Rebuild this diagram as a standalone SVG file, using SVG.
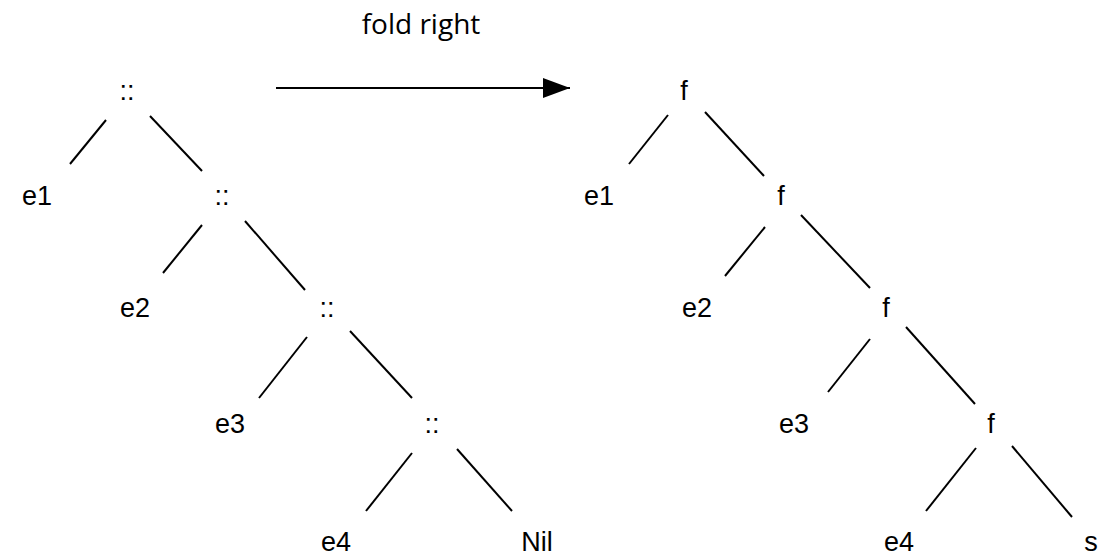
<svg xmlns="http://www.w3.org/2000/svg" width="1111" height="556" viewBox="0 0 1111 556">
<style>
text{font-family:"Liberation Sans",Arial,sans-serif;font-size:27px;fill:#000;text-anchor:middle}
.t{font-family:"Open Sans","Liberation Sans",sans-serif;font-size:28px}
line{stroke:#000;stroke-width:2;fill:none}
</style>
<defs>
<marker id="ah" viewBox="0 0 27 20" refX="27" refY="10" markerWidth="27" markerHeight="20" markerUnits="userSpaceOnUse" orient="auto">
<path d="M0,0 L27,10 L0,20 Z" fill="#000"/>
</marker>
</defs>
<rect width="1111" height="556" fill="#fff"/>
<g id="connectors">
<line x1="106" y1="120" x2="70" y2="164"/>
<line x1="150" y1="116" x2="202" y2="171"/>
<line x1="202" y1="225" x2="163" y2="273"/>
<line x1="245" y1="221" x2="305" y2="290"/>
<line x1="307" y1="337" x2="259" y2="398"/>
<line x1="350" y1="331" x2="412" y2="398"/>
<line x1="412" y1="453" x2="366" y2="511"/>
<line x1="457" y1="449" x2="512" y2="511"/>
<line x1="668" y1="115" x2="629" y2="164"/>
<line x1="705" y1="112" x2="764" y2="176"/>
<line x1="765" y1="227" x2="725" y2="276"/>
<line x1="801" y1="215" x2="870" y2="288"/>
<line x1="870" y1="339" x2="828" y2="392"/>
<line x1="906" y1="327" x2="975" y2="404"/>
<line x1="976" y1="448" x2="926" y2="511"/>
<line x1="1012" y1="446" x2="1072" y2="517"/>
<line x1="276" y1="88" x2="570" y2="88" stroke-width="2.5" marker-end="url(#ah)"/>
</g>
<g id="label-fold"><text class="t" x="421" y="34">fold right</text></g>
<g id="l-root"><text x="127" y="100">::</text></g>
<g id="l-e1"><text x="37" y="205">e1</text></g>
<g id="l-c2"><text x="222" y="205">::</text></g>
<g id="l-e2"><text x="135" y="317">e2</text></g>
<g id="l-c3"><text x="327" y="317">::</text></g>
<g id="l-e3"><text x="230" y="433">e3</text></g>
<g id="l-c4"><text x="432" y="433">::</text></g>
<g id="l-e4"><text x="336" y="551">e4</text></g>
<g id="l-nil"><text x="537" y="551">Nil</text></g>
<g id="r-root"><text x="684" y="100">f</text></g>
<g id="r-e1"><text x="599" y="205">e1</text></g>
<g id="r-f2"><text x="781" y="205">f</text></g>
<g id="r-e2"><text x="697" y="317">e2</text></g>
<g id="r-f3"><text x="886" y="317">f</text></g>
<g id="r-e3"><text x="794" y="433">e3</text></g>
<g id="r-f4"><text x="991" y="433">f</text></g>
<g id="r-e4"><text x="899" y="551">e4</text></g>
<g id="r-s"><text x="1091" y="551">s</text></g>
</svg>
